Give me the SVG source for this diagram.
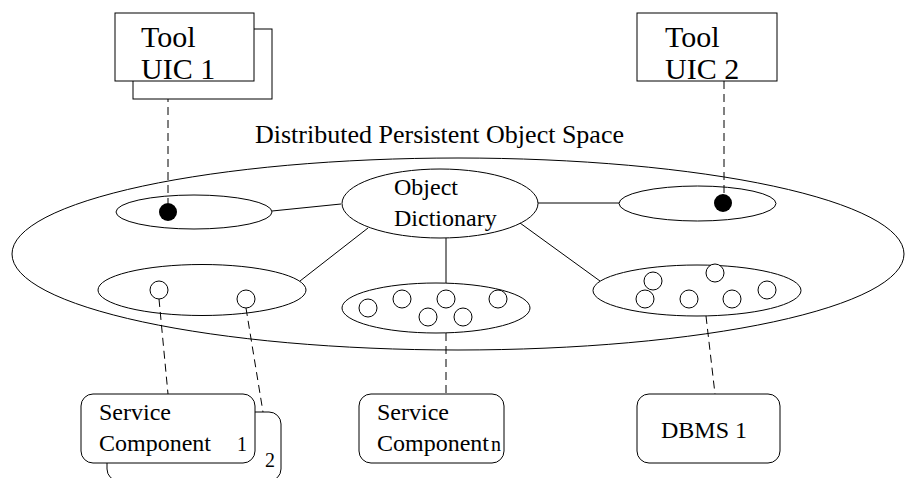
<svg xmlns="http://www.w3.org/2000/svg" width="906" height="478" viewBox="0 0 906 478">
<style>
.s{fill:none;stroke:#000;stroke-width:1}
.w{fill:#fff;stroke:#000;stroke-width:1}
.d{fill:none;stroke:#000;stroke-width:1;stroke-dasharray:8 5}
.c{fill:#fff;stroke:#000;stroke-width:1}
.f{fill:#000}
text{font-family:"Liberation Serif","Times New Roman",serif;fill:#000}
.big{font-size:30px}
.mid{font-size:24px}
.sm{font-size:20px}
</style>
<rect width="906" height="478" fill="#fff"/>
<g id="space">
<ellipse class="s" cx="458" cy="254" rx="446" ry="96"/>
<text x="255" y="143" style="font-size:26px">Distributed Persistent Object Space</text>
</g>
<g id="connectors">
<line class="s" x1="272" y1="211" x2="341" y2="204"/>
<line class="s" x1="538" y1="203" x2="619" y2="203"/>
<line class="s" x1="368" y1="228" x2="300" y2="281"/>
<line class="s" x1="446" y1="238" x2="446" y2="283"/>
<line class="s" x1="520" y1="223" x2="600" y2="281"/>
<line class="d" x1="168" y1="81" x2="168" y2="203"/>
<line class="d" x1="724" y1="81" x2="724" y2="194"/>
<line class="d" x1="159" y1="299" x2="168" y2="394"/>
<line class="d" x1="246" y1="308" x2="263" y2="412"/>
<line class="d" x1="446" y1="333" x2="446" y2="394"/>
<line class="d" x1="706" y1="316" x2="715" y2="394"/>
</g>
<g id="tool-uic-1">
<rect class="w" x="133" y="29" width="139" height="70"/>
<rect class="w" x="115" y="13" width="139" height="68"/>
<text class="big" x="141" y="47">Tool</text>
<text class="big" x="141" y="79">UIC 1</text>
</g>
<g id="tool-uic-2">
<rect class="w" x="637" y="13" width="140" height="68"/>
<text class="big" x="665" y="47">Tool</text>
<text class="big" x="665" y="79">UIC 2</text>
</g>
<g id="ui-left">
<ellipse class="s" cx="194" cy="212" rx="78" ry="17"/>
<circle class="f" cx="168" cy="212" r="9"/>
</g>
<g id="ui-right">
<ellipse class="s" cx="697.5" cy="203.5" rx="78.5" ry="17.5"/>
<circle class="f" cx="723" cy="203" r="9"/>
</g>
<g id="object-dictionary">
<ellipse class="s" cx="440" cy="203.5" rx="98" ry="34.5"/>
<text class="mid" x="394" y="195">Object</text>
<text class="mid" x="394" y="226">Dictionary</text>
</g>
<g id="cluster-left">
<ellipse class="s" cx="202" cy="290" rx="104" ry="25.5"/>
<circle class="c" cx="159" cy="290" r="9"/>
<circle class="c" cx="246" cy="299" r="9"/>
</g>
<g id="cluster-middle">
<ellipse class="s" cx="436" cy="308" rx="94" ry="25"/>
<circle class="c" cx="368" cy="308" r="9"/>
<circle class="c" cx="402" cy="299" r="9"/>
<circle class="c" cx="446" cy="299" r="9"/>
<circle class="c" cx="428" cy="317" r="9"/>
<circle class="c" cx="463" cy="317" r="9"/>
<circle class="c" cx="498" cy="299" r="9"/>
</g>
<g id="cluster-right">
<ellipse class="s" cx="697" cy="290.5" rx="104" ry="25.5"/>
<circle class="c" cx="653" cy="281" r="9"/>
<circle class="c" cx="645" cy="299" r="9"/>
<circle class="c" cx="689" cy="299" r="9"/>
<circle class="c" cx="715" cy="273" r="9"/>
<circle class="c" cx="732" cy="299" r="9"/>
<circle class="c" cx="767" cy="290" r="9"/>
</g>
<g id="service-component-1">
<rect class="w" x="107" y="412" width="174" height="69" rx="12"/>
<rect class="w" x="81" y="394" width="174" height="69" rx="12"/>
<text class="mid" x="99" y="420">Service</text>
<text class="mid" x="99" y="451">Component</text>
<text class="sm" x="237" y="451">1</text>
<text class="sm" x="265" y="467">2</text>
</g>
<g id="service-component-n">
<rect class="w" x="359" y="394" width="145" height="69" rx="12"/>
<text class="mid" x="377" y="420">Service</text>
<text class="mid" x="377" y="451">Component</text>
<text class="sm" x="491" y="451">n</text>
</g>
<g id="dbms-1">
<rect class="w" x="637" y="394" width="143" height="69" rx="12"/>
<text class="mid" x="661" y="438">DBMS 1</text>
</g>
</svg>
